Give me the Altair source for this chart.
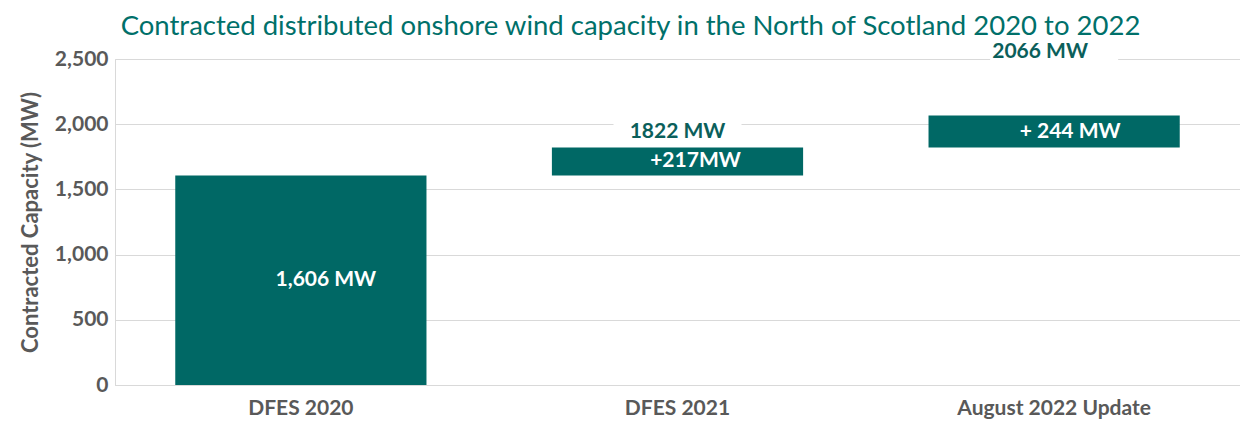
import altair as alt
import pandas as pd

categories = ["DFES 2020", "DFES 2021", "August 2022 Update"]
bar_start = [0, 1606, 1822]
bar_end = [1606, 1822, 2066]
inside_labels = ["1,606 MW", "+217MW", "+ 244 MW"]
total_labels = ["", "1822 MW", "2066 MW"]
total_label_at = [0, 1944, 2552]

TEAL = "#006865"
GRAY = "#595959"
GRID = "#D9D9D9"
FONT = "Lato"

df = pd.DataFrame({
    "cat": categories,
    "start": bar_start,
    "end": bar_end,
    "mid": [(a + b) / 2 for a, b in zip(bar_start, bar_end)],
    "inside": inside_labels,
    "total": total_labels,
    "total_at": total_label_at,
    "box_lo": [v - 90 for v in total_label_at],
    "box_hi": [v + 85 for v in total_label_at],
})

x = alt.X("cat:N", sort=categories, title=None,
          scale=alt.Scale(paddingInner=0.333, paddingOuter=0.16),
          axis=alt.Axis(labelAngle=0, labelFont=FONT, labelFontSize=21, labelFontWeight="bold",
                        labelColor=GRAY, labelPadding=12, labelLimit=400, ticks=False, domainColor=GRID))

y_scale = alt.Scale(domain=[0, 2500], nice=False)

base = alt.Chart(df)

bars = base.mark_bar(color=TEAL).encode(
    x=x,
    y=alt.Y("start:Q", scale=y_scale, title="Contracted Capacity (MW)",
            axis=alt.Axis(values=[0, 500, 1000, 1500, 2000, 2500], format=",.0f",
                          labelFont=FONT, labelFontSize=21, labelFontWeight="bold", labelColor=GRAY,
                          labelPadding=7, ticks=False, domainColor=GRID, gridColor=GRID,
                          titleFont=FONT, titleFontSize=22, titleFontWeight="bold", titleColor=GRAY,
                          titlePadding=12)),
    y2="end:Q",
)

boxes = base.transform_filter("datum.total != ''").mark_bar(color="white", width=128).encode(
    x=alt.X("cat:N", sort=categories),
    y=alt.Y("box_lo:Q", scale=y_scale),
    y2="box_hi:Q",
)


def inside_layer(cat, dx):
    return base.transform_filter(alt.datum.cat == cat).mark_text(
        color="white", font=FONT, fontSize=21, fontWeight="bold", dx=dx).encode(
        x=alt.X("cat:N", sort=categories),
        y=alt.Y("mid:Q", scale=y_scale),
        text="inside:N",
    )


def total_layer(cat, dx):
    return base.transform_filter(alt.datum.cat == cat).mark_text(
        color="#0B5F5B", font=FONT, fontSize=21, fontWeight="bold", dx=dx).encode(
        x=alt.X("cat:N", sort=categories),
        y=alt.Y("total_at:Q", scale=y_scale),
        text="total:N",
    )


layers = [bars, boxes,
          inside_layer(categories[0], 25), inside_layer(categories[1], 18), inside_layer(categories[2], 16),
          total_layer(categories[1], 0), total_layer(categories[2], -14)]

chart = alt.layer(*layers).properties(
    width=1125, height=326,
    autosize=alt.AutoSizeParams(type="none"),
    padding={"left": 107, "top": 51, "right": 0, "bottom": 34},
    title=alt.TitleParams(
        "Contracted distributed onshore wind capacity in the North of Scotland 2020 to 2022",
        font=FONT, fontSize=27.5, fontWeight="normal", color="#00706A",
        anchor="middle", frame="group", offset=1, dx=-47),
).configure_view(stroke=None).configure(background="white")

chart.save("out.html", embed_options={"renderer": "svg", "actions": False})
